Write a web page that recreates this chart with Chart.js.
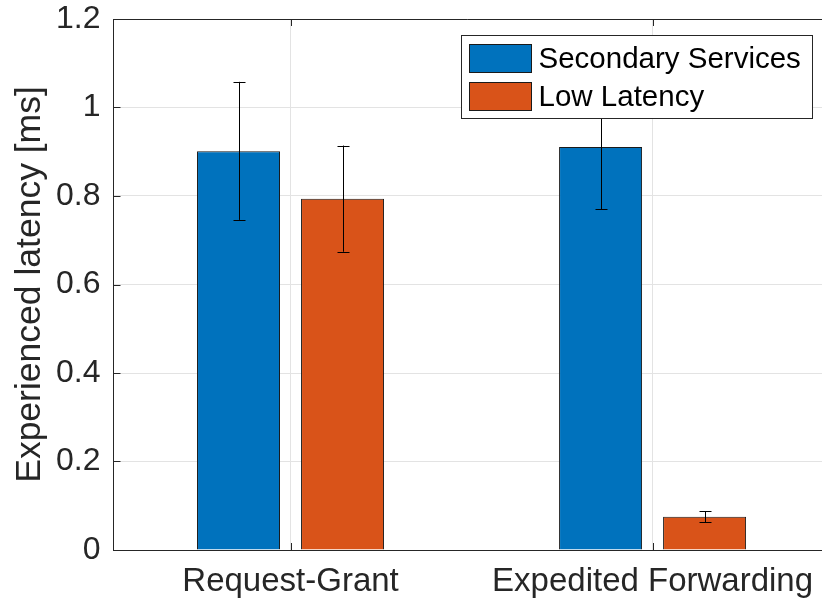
<!DOCTYPE html>
<html><head><meta charset="utf-8">
<script src="https://cdn.jsdelivr.net/npm/chart.js@4.4.1/dist/chart.umd.min.js"></script>
<style>html,body{margin:0;padding:0;background:#fff;overflow:hidden}canvas{display:block}</style>
</head><body>
<canvas id="c" width="822" height="604"></canvas>
<script>
const categories = ['Request-Grant', 'Expedited Forwarding'];
const categoryPositions = [1, 2];
const seriesNames = ['Secondary Services', 'Low Latency'];
const secondaryValues = [0.901, 0.911];
const secondaryErrLow = [0.746, 0.770];
const secondaryErrHigh = [1.058, 1.054];
const lowLatencyValues = [0.794, 0.0754];
const lowLatencyErrLow = [0.674, 0.0627];
const lowLatencyErrHigh = [0.914, 0.0876];
const yTickValues = [0, 0.2, 0.4, 0.6, 0.8, 1, 1.2];
const yTickLabels = ['0', '0.2', '0.4', '0.6', '0.8', '1', '1.2'];
const yAxisTitle = 'Experienced latency [ms]';

const FONT = "'Liberation Sans', Arial, Helvetica, sans-serif";
const TEXT = '#262626';
const AXIS = '#262626';
const GRID = '#e3e3e3';
const COLORS = ['#0072BD', '#D95319'];

const toPoints = (vals) => vals.map((v, i) => ({ x: categoryPositions[i], y: v }));
const errLows = [secondaryErrLow, lowLatencyErrLow];
const errHighs = [secondaryErrHigh, lowLatencyErrHigh];

const framePlugin = {
  id: 'frame',
  afterDraw(chart) {
    const ctx = chart.ctx;
    const a = chart.chartArea;
    const xs = chart.scales.x, ys = chart.scales.y;
    ctx.save();
    // error bars
    ctx.strokeStyle = '#000';
    ctx.lineWidth = 1;
    chart.data.datasets.forEach((ds, di) => {
      const meta = chart.getDatasetMeta(di);
      meta.data.forEach((bar, i) => {
        const x = Math.round(bar.x) + 0.5;
        const yl = ys.getPixelForValue(errLows[di][i]);
        const yh = ys.getPixelForValue(errHighs[di][i]);
        ctx.beginPath();
        ctx.moveTo(x, yh); ctx.lineTo(x, yl);
        ctx.moveTo(x - 6, Math.round(yh) + 0.5); ctx.lineTo(x + 6, Math.round(yh) + 0.5);
        ctx.moveTo(x - 6, Math.round(yl) + 0.5); ctx.lineTo(x + 6, Math.round(yl) + 0.5);
        ctx.stroke();
      });
    });
    // frame: top border and inward ticks
    ctx.strokeStyle = AXIS;
    ctx.beginPath();
    const top = Math.round(a.top) + 0.5;
    ctx.moveTo(a.left, top); ctx.lineTo(a.right, top);
    yTickValues.forEach(v => {
      const y = Math.round(ys.getPixelForValue(v)) + 0.5;
      ctx.moveTo(a.left, y); ctx.lineTo(a.left + 7, y);
    });
    categoryPositions.forEach(p => {
      const x = Math.round(xs.getPixelForValue(p)) + 0.5;
      ctx.moveTo(x, a.top); ctx.lineTo(x, a.top + 7);
      ctx.moveTo(x, a.bottom); ctx.lineTo(x, a.bottom - 7);
    });
    ctx.stroke();
    // legend
    const bw = 351, bh = 83;
    const lx = Math.round(a.right - 10 - bw) + 0.5;
    const ly = Math.round(a.top + 16) + 0.5;
    ctx.fillStyle = '#fff';
    ctx.fillRect(lx, ly, bw, bh);
    ctx.strokeStyle = AXIS;
    ctx.strokeRect(lx, ly, bw, bh);
    ctx.font = '29.5px ' + FONT;
    ctx.textBaseline = 'middle';
    ctx.textAlign = 'left';
    chart.data.datasets.forEach((ds, di) => {
      const sy = ly + 9 + di * 38;
      ctx.fillStyle = ds.backgroundColor;
      ctx.fillRect(lx + 8, sy, 62, 28);
      ctx.strokeStyle = '#1a1a1a';
      ctx.strokeRect(lx + 8, sy, 62, 28);
      ctx.fillStyle = '#000';
      ctx.fillText(ds.label, lx + 77, sy + 15);
    });
    ctx.restore();
  }
};

new Chart(document.getElementById('c'), {
  type: 'bar',
  data: {
    datasets: [
      { label: seriesNames[0], data: toPoints(secondaryValues), backgroundColor: COLORS[0], borderColor: '#1a1a1a', borderWidth: 1 },
      { label: seriesNames[1], data: toPoints(lowLatencyValues), backgroundColor: COLORS[1], borderColor: '#1a1a1a', borderWidth: 1 }
    ]
  },
  options: {
    responsive: false,
    animation: false,
    devicePixelRatio: 1,
    layout: { padding: { left: 0, right: 0, top: 19, bottom: 0 } },
    categoryPercentage: 0.5746,
    barPercentage: 0.798,
    plugins: { legend: { display: false }, tooltip: { enabled: false } },
    scales: {
      x: {
        type: 'linear',
        offset: false,
        min: 0.511,
        max: 2.468,
        afterBuildTicks(s) { s.ticks = categoryPositions.map(v => ({ value: v })); },
        afterFit(s) { s.height = 54; s.paddingLeft = 0; s.paddingRight = 0; },
        ticks: {
          callback: (v) => categories[categoryPositions.indexOf(v)] || '',
          font: { family: FONT, size: 33 },
          color: TEXT,
          padding: 12,
          maxRotation: 0,
          autoSkip: false
        },
        grid: { color: GRID, drawTicks: false, offset: false },
        border: { display: true, color: AXIS, width: 1 }
      },
      y: {
        min: 0,
        max: 1.2,
        afterBuildTicks(s) { s.ticks = yTickValues.map(v => ({ value: v })); },
        afterFit(s) { s.width = 113.5; s.paddingTop = 0; s.paddingBottom = 0; },
        ticks: {
          callback: (v) => yTickLabels[yTickValues.indexOf(v)],
          font: { family: FONT, size: 32 },
          color: TEXT,
          padding: 13
        },
        grid: { color: GRID, drawTicks: false },
        border: { display: true, color: AXIS, width: 1 },
        title: {
          display: true,
          text: yAxisTitle,
          font: { family: FONT, size: 35.5 },
          color: TEXT,
          padding: { top: 9, bottom: 0 }
        }
      }
    }
  },
  plugins: [framePlugin]
});
</script>
</body></html>
